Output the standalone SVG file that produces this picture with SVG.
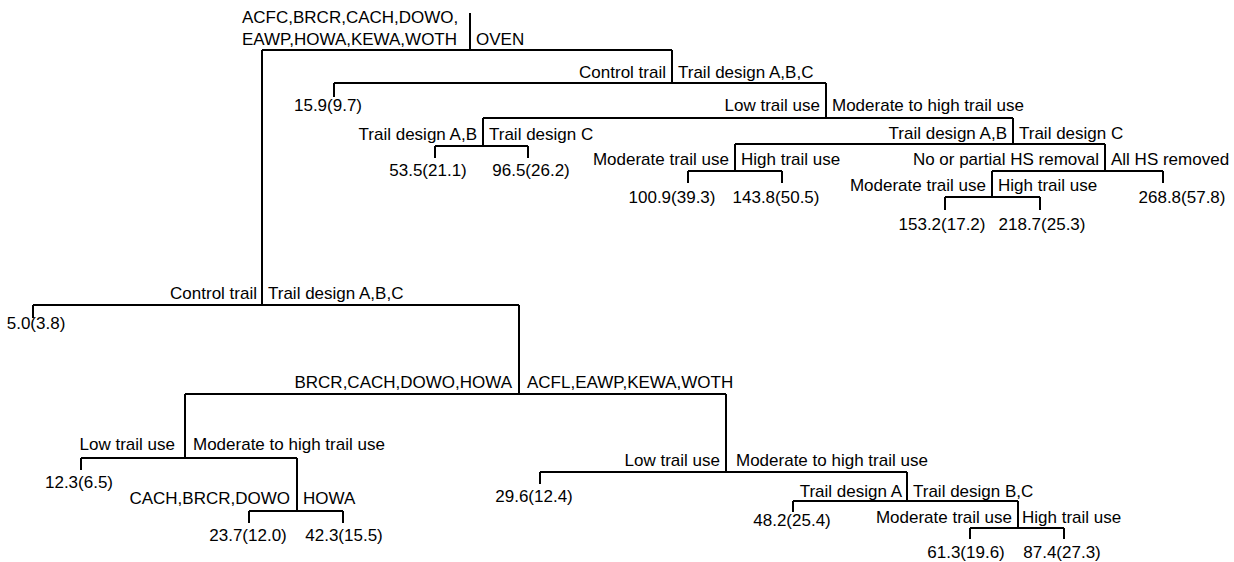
<svg xmlns="http://www.w3.org/2000/svg" width="1234" height="562" viewBox="0 0 1234 562">
<style>
text{font-family:"Liberation Sans",Arial,sans-serif;font-size:17px;fill:#000}
.e{text-anchor:end}
.m{text-anchor:middle}
.c{stroke:#000;stroke-width:2;fill:none}
</style>
<rect width="1234" height="562" fill="#fff"/>
<g id="connectors" class="c">
<path d="M470,13V50M262,50H672"/>
<path d="M262,50V305M672,50V83"/>
<path d="M334,83H826M334,83V97M826,83V118"/>
<path d="M483,118H1013M483,118V146M1013,118V144"/>
<path d="M435,146H528M435,146V158M528,146V158"/>
<path d="M735,144H1105M735,144V171M1105,144V171"/>
<path d="M688,171H782M688,171V183M782,171V183"/>
<path d="M992,171H1163M992,171V197M1163,171V183"/>
<path d="M945,197H1040M945,197V210M1040,197V210"/>
<path d="M33,305H519M33,305V318M519,305V394"/>
<path d="M185,394H726M185,394V458M726,394V472"/>
<path d="M81,458H297M81,458V470M297,458V511"/>
<path d="M249,511H343M249,511V523M343,511V523"/>
<path d="M540,472H907M540,472V484M907,472V501"/>
<path d="M793,501H1018M793,501V512M1018,501V528"/>
<path d="M970,528H1064M970,528V539M1064,528V539"/>
</g>
<g id="n_root">
<text x="242" y="23">ACFC,BRCR,CACH,DOWO,</text>
<text x="242" y="45">EAWP,HOWA,KEWA,WOTH</text>
<text x="476" y="45">OVEN</text>
</g>
<g id="n_oven_trail">
<text class="e" x="666" y="78">Control trail</text>
<text x="678" y="78">Trail design A,B,C</text>
</g>
<g id="n_oven_use">
<text class="e" x="820" y="111">Low trail use</text>
<text x="832" y="111">Moderate to high trail use</text>
</g>
<g id="n_oven_low_design">
<text class="e" x="477" y="140">Trail design A,B</text>
<text x="489" y="140">Trail design C</text>
</g>
<g id="n_oven_high_design">
<text class="e" x="1007" y="139">Trail design A,B</text>
<text x="1019" y="139">Trail design C</text>
</g>
<g id="n_oven_ab_use">
<text class="e" x="729" y="165">Moderate trail use</text>
<text x="741" y="165">High trail use</text>
</g>
<g id="n_oven_c_hs">
<text class="e" x="1099" y="165">No or partial HS removal</text>
<text x="1111" y="165">All HS removed</text>
</g>
<g id="n_oven_hs_use">
<text class="e" x="986" y="191">Moderate trail use</text>
<text x="998" y="191">High trail use</text>
</g>
<g id="n_other_trail">
<text class="e" x="257" y="299">Control trail</text>
<text x="268" y="299">Trail design A,B,C</text>
</g>
<g id="n_species">
<text class="e" x="512" y="388">BRCR,CACH,DOWO,HOWA</text>
<text x="527" y="388">ACFL,EAWP,KEWA,WOTH</text>
</g>
<g id="n_g1_use">
<text class="e" x="175" y="450">Low trail use</text>
<text x="193" y="450">Moderate to high trail use</text>
</g>
<g id="n_g1_species">
<text class="e" x="290" y="504">CACH,BRCR,DOWO</text>
<text x="303" y="504">HOWA</text>
</g>
<g id="n_g2_use">
<text class="e" x="720" y="466">Low trail use</text>
<text x="736" y="466">Moderate to high trail use</text>
</g>
<g id="n_g2_design">
<text class="e" x="902" y="497">Trail design A</text>
<text x="913" y="497">Trail design B,C</text>
</g>
<g id="n_g2_use2">
<text class="e" x="1012" y="523">Moderate trail use</text>
<text x="1022" y="523">High trail use</text>
</g>
<g id="leaves">
<g id="l1"><text class="m" x="328" y="111">15.9(9.7)</text></g>
<g id="l2"><text class="m" x="428" y="176">53.5(21.1)</text></g>
<g id="l3"><text class="m" x="531" y="176">96.5(26.2)</text></g>
<g id="l4"><text class="m" x="672" y="203">100.9(39.3)</text></g>
<g id="l5"><text class="m" x="776" y="203">143.8(50.5)</text></g>
<g id="l6"><text class="m" x="1182" y="203">268.8(57.8)</text></g>
<g id="l7"><text class="m" x="942" y="230">153.2(17.2)</text></g>
<g id="l8"><text class="m" x="1042" y="230">218.7(25.3)</text></g>
<g id="l9"><text class="m" x="36" y="329">5.0(3.8)</text></g>
<g id="l10"><text class="m" x="79" y="488">12.3(6.5)</text></g>
<g id="l11"><text class="m" x="248" y="541">23.7(12.0)</text></g>
<g id="l12"><text class="m" x="344" y="541">42.3(15.5)</text></g>
<g id="l13"><text class="m" x="534" y="502">29.6(12.4)</text></g>
<g id="l14"><text class="m" x="792" y="526">48.2(25.4)</text></g>
<g id="l15"><text class="m" x="966" y="558">61.3(19.6)</text></g>
<g id="l16"><text class="m" x="1062" y="558">87.4(27.3)</text></g>
</g>
</svg>
